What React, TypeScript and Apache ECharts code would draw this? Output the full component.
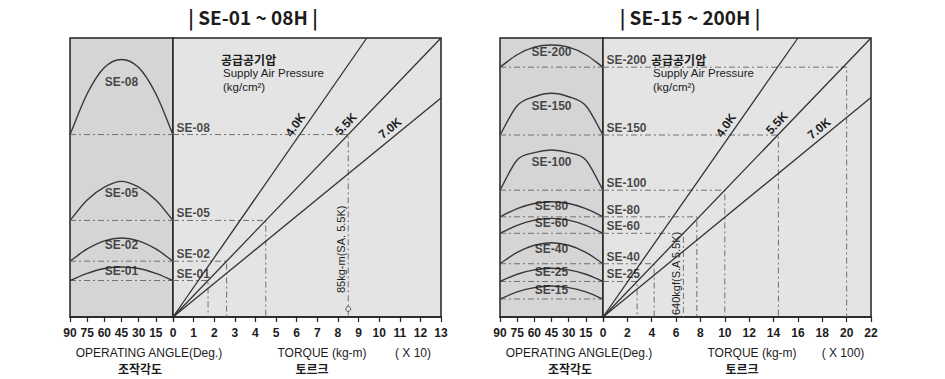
import React, { useEffect, useRef } from 'react';
import * as echarts from 'echarts';

// ---------- data ----------
const pressureNames = ['4.0K', '5.5K', '7.0K'];
const angleAxisName = 'OPERATING ANGLE(Deg.)';
const angleAxisNameKo = '조작각도';
const torqueAxisName = 'TORQUE (kg-m)';
const torqueAxisNameKo = '토르크';
const supplyKo = '공급공기압';
const supplyEn = 'Supply Air Pressure';
const supplyUnit = '(kg/cm²)';
const arcAngles = [90, 75, 60, 45, 30, 15, 0];

// left panel  (SE-01 ~ 08H)
const leftTitle = '| SE-01 ~ 08H |';
const leftScaleNote = '( X 10)';
const leftTorqueMax = 13;
const leftTorqueStep = 1;
const leftSeNames = ['SE-01', 'SE-02', 'SE-05', 'SE-08'];
const leftSeLevels = [1.7, 2.6, 4.5, 8.5];
const leftSeTorques: (number | null)[] = [1.7, 2.6, 4.5, 8.5];
const leftArcShoulders = [2.03, 3.17, 5.45, 10.4];  // arc height at 15° / 75°
const leftArcUpper = [2.26, 3.55, 6.05, 11.62];     // arc height at 30° / 60°
const leftArcPeaks = [2.33, 3.68, 6.32, 12.0];      // arc height at 45°
const leftLineEnds = [[9.4, 13], [13, 13], [13, 10.2]];
const leftLineLabelTorques = [6.3, 8.7, 10.8];
const leftRatedNote = '85kg-m(SA. 5.5K)';
const leftRatedTorque = 8.5;

// right panel (SE-15 ~ 200H)
const rightTitle = '| SE-15 ~ 200H |';
const rightScaleNote = '( X 100)';
const rightTorqueMax = 22;
const rightTorqueStep = 2;
const rightSeNames = ['SE-15', 'SE-25', 'SE-40', 'SE-60', 'SE-80', 'SE-100', 'SE-150', 'SE-200'];
const rightSeLevels = [1.42, 2.8, 4.2, 6.6, 7.9, 10.0, 14.35, 19.7];
const rightSeTorques: (number | null)[] = [null, 2.8, 4.2, 6.6, 7.7, 10.0, 14.4, 20.0];
const rightArcShoulders = [1.98, 3.37, 5.1, 7.22, 8.55, 12.38, 16.66, 20.68];
const rightArcUpper = [2.32, 3.72, 5.66, 7.64, 8.95, 12.96, 17.37, 21.28];
const rightArcPeaks = [2.44, 3.84, 5.86, 7.78, 9.09, 13.17, 17.64, 21.45];
const rightLineEnds = [[16, 22], [22, 22], [22, 17.3]];
const rightLineLabelTorques = [10.7, 14.8, 18.2];
const rightRatedNote = '640kgf(S.A 5.5K)';
const rightRatedTorque = 6.6;

// ---------- layout / style ----------
const FONT = '"Liberation Sans", Arial, sans-serif';
const KFONT = '"Noto Sans CJK KR", "Noto Sans", sans-serif';
const TOP = 38;
const H = 279;
const ANGLE_W = 103;
const TORQUE_W = 268;
const TXT = '#1c1c1c';
const DASH = { color: '#707070', width: 1, type: [6, 3, 2, 3] as any };

const panels = [
  {
    left: 70, titleX: 253, title: leftTitle, scaleNote: leftScaleNote,
    torqueMax: leftTorqueMax, torqueStep: leftTorqueStep,
    names: leftSeNames, levels: leftSeLevels, torques: leftSeTorques,
    shoulders: leftArcShoulders, upper: leftArcUpper, peaks: leftArcPeaks,
    lineEnds: leftLineEnds, labelTorques: leftLineLabelTorques,
    ratedNote: leftRatedNote, ratedTorque: leftRatedTorque, ratedLift: 24, ratedMark: true,
  },
  {
    left: 500, titleX: 690, title: rightTitle, scaleNote: rightScaleNote,
    torqueMax: rightTorqueMax, torqueStep: rightTorqueStep,
    names: rightSeNames, levels: rightSeLevels, torques: rightSeTorques,
    shoulders: rightArcShoulders, upper: rightArcUpper, peaks: rightArcPeaks,
    lineEnds: rightLineEnds, labelTorques: rightLineLabelTorques,
    ratedNote: rightRatedNote, ratedTorque: rightRatedTorque, ratedLift: 2, ratedMark: false,
  },
];

// Catmull-Rom curve through pixel points, as an SVG path
function curvePath(pts: number[][]): string {
  const n = pts.length;
  const get = (i: number) => {
    if (i < 0) return [2 * pts[0][0] - pts[1][0], 2 * pts[0][1] - pts[1][1]];
    if (i >= n) return [2 * pts[n - 1][0] - pts[n - 2][0], 2 * pts[n - 1][1] - pts[n - 2][1]];
    return pts[i];
  };
  let d = `M${pts[0][0]},${pts[0][1]}`;
  for (let i = 0; i < n - 1; i++) {
    const p0 = get(i - 1), p1 = get(i), p2 = get(i + 1), p3 = get(i + 2);
    const c1 = [p1[0] + (p2[0] - p0[0]) / 6, p1[1] + (p2[1] - p0[1]) / 6];
    const c2 = [p2[0] - (p3[0] - p1[0]) / 6, p2[1] - (p3[1] - p1[1]) / 6];
    d += ` C${c1[0]},${c1[1]} ${c2[0]},${c2[1]} ${p2[0]},${p2[1]}`;
  }
  return d;
}

export default function App() {
  const ref = useRef<HTMLDivElement>(null);

  useEffect(() => {
    if (!ref.current) return;
    const chart = echarts.init(ref.current, null, { renderer: 'svg' });

    const grids: any[] = [];
    const xAxes: any[] = [];
    const yAxes: any[] = [];
    const series: any[] = [];
    const staticGraphics: any[] = [];

    const axisCommon = {
      type: 'value',
      axisLine: { show: true, onZero: false, lineStyle: { color: '#222', width: 1.5 } },
      axisTick: { show: true, length: 5, lineStyle: { color: '#222', width: 1.2 } },
      splitLine: { show: false },
    };
    const tickLabel = { color: TXT, fontSize: 12, fontFamily: FONT, fontWeight: 'bold', margin: 10 };

    panels.forEach((p, pi) => {
      const ga = pi * 2;
      const gt = pi * 2 + 1;
      grids.push({ left: p.left, top: TOP, width: ANGLE_W, height: H, show: true, backgroundColor: '#d5d5d5', borderColor: '#222', borderWidth: 1.5 });
      grids.push({ left: p.left + ANGLE_W, top: TOP, width: TORQUE_W, height: H, show: true, backgroundColor: '#e4e4e4', borderColor: '#222', borderWidth: 1.5 });
      xAxes.push({
        ...axisCommon, gridIndex: ga, min: 0, max: 90, interval: 15, inverse: true,
        axisLabel: { ...tickLabel, formatter: (v: number) => (v === 0 ? '' : String(v)) },
      });
      xAxes.push({
        ...axisCommon, gridIndex: gt, min: 0, max: p.torqueMax, interval: p.torqueStep,
        axisLabel: { ...tickLabel },
      });
      yAxes.push({ gridIndex: ga, type: 'value', min: 0, max: p.torqueMax, show: false });
      yAxes.push({ gridIndex: gt, type: 'value', min: 0, max: p.torqueMax, show: false });

      // operating-angle arcs, drawn through the read points with the axis scales
      series.push({
        type: 'custom', coordinateSystem: 'cartesian2d', xAxisIndex: ga, yAxisIndex: ga,
        silent: true, z: 3,
        data: p.names.map((_, i) => [45, p.peaks[i], i]),
        renderItem: (_params: any, api: any) => {
          const i = api.value(2);
          const L = p.levels[i], S = p.shoulders[i], U = p.upper[i], P = p.peaks[i];
          const vals = [L, S, U, P, U, S, L];
          const pts = arcAngles.map((a, k) => api.coord([a, vals[k]]));
          return {
            type: 'path',
            shape: { pathData: curvePath(pts) },
            style: { fill: 'none', stroke: '#383838', lineWidth: 1.4 },
          };
        },
      });

      p.names.forEach((nm, i) => {
        const L = p.levels[i];
        const P = p.peaks[i];
        series.push({
          type: 'line', xAxisIndex: ga, yAxisIndex: ga, silent: true, z: 2,
          data: [[90, L], [0, L]], symbol: 'none', lineStyle: DASH,
        });
        series.push({
          type: 'scatter', xAxisIndex: ga, yAxisIndex: ga, silent: true, z: 4,
          data: [{ name: nm, value: [45, L + 0.7 * (P - L)] }],
          symbolSize: 1, itemStyle: { color: 'rgba(0,0,0,0)' },
          label: { show: true, formatter: '{b}', position: 'inside', color: TXT, fontSize: 12, fontWeight: 'bold', fontFamily: FONT },
        });
        const T = p.torques[i];
        if (T != null) {
          series.push({
            type: 'line', xAxisIndex: gt, yAxisIndex: gt, silent: true, z: 2,
            data: [[0, L], [T, L], [T, 0]], symbol: 'none', lineStyle: DASH,
          });
          series.push({
            type: 'scatter', xAxisIndex: gt, yAxisIndex: gt, silent: true, z: 4,
            data: [{ name: nm, value: [0, L] }],
            symbolSize: 1, itemStyle: { color: 'rgba(0,0,0,0)' },
            label: { show: true, formatter: '{b}', position: 'right', distance: 3, offset: [0, -7], color: TXT, fontSize: 12, fontWeight: 'bold', fontFamily: FONT },
          });
        }
      });

      p.lineEnds.forEach((e) => {
        series.push({
          type: 'line', xAxisIndex: gt, yAxisIndex: gt, silent: true, z: 3,
          data: [[0, 0], e], symbol: 'none', lineStyle: { color: '#333', width: 1.3 },
        });
      });

      if (p.ratedMark) {
        series.push({
          type: 'scatter', xAxisIndex: gt, yAxisIndex: gt, silent: true, z: 5,
          data: [[p.ratedTorque, 0]], symbol: 'circle', symbolSize: 5, symbolOffset: [0, -8],
          itemStyle: { color: '#e4e4e4', borderColor: '#444', borderWidth: 1 },
        });
      }

      // static texts
      const base = p.left;
      const t = (text: string, x: number, y: number, size: number, font: string, weight = 'normal', align = 'center') => ({
        type: 'text', x, y, silent: true,
        style: { text, fill: TXT, fontSize: size, fontFamily: font, fontWeight: weight, align, verticalAlign: 'middle' },
      });
      staticGraphics.push(t(p.title, p.titleX, 16, 19, KFONT, 'bold'));
      staticGraphics.push(t(angleAxisName, base + 79, 353, 12, FONT));
      staticGraphics.push(t(angleAxisNameKo, base + 70, 368, 12, KFONT, 'bold'));
      staticGraphics.push(t(torqueAxisName, base + 252, 353, 12, FONT));
      staticGraphics.push(t(torqueAxisNameKo, base + 242, 368, 12, KFONT, 'bold'));
      staticGraphics.push(t(p.scaleNote, base + 343, 353, 12, FONT));
      staticGraphics.push(t(supplyKo, base + 151, 59, 12, KFONT, 'bold', 'left'));
      staticGraphics.push(t(supplyEn, base + 153, 73, 11.5, FONT, 'normal', 'left'));
      staticGraphics.push(t(supplyUnit, base + 153, 87, 11.5, FONT, 'normal', 'left'));
    });

    chart.setOption({
      animation: false,
      backgroundColor: '#ffffff',
      grid: grids,
      xAxis: xAxes,
      yAxis: yAxes,
      series,
    });

    // labels placed along the pressure lines, using the chart's own scales
    const dyn: any[] = [];
    panels.forEach((p, pi) => {
      const gt = pi * 2 + 1;
      const px = (v: number[]) => chart.convertToPixel({ xAxisIndex: gt, yAxisIndex: gt }, v) as number[];
      const o = px([0, 0]);
      p.lineEnds.forEach((e, k) => {
        const q = px(e);
        const a = Math.atan2(o[1] - q[1], q[0] - o[0]);
        const tx = p.labelTorques[k];
        const pt = px([tx, (e[1] / e[0]) * tx]);
        const d = 9;
        dyn.push({
          type: 'text', silent: true,
          x: pt[0] - Math.sin(a) * d, y: pt[1] - Math.cos(a) * d, rotation: a,
          style: { text: pressureNames[k], fill: TXT, fontSize: 12, fontWeight: 'bold', fontFamily: FONT, align: 'center', verticalAlign: 'middle' },
        });
      });
      const r = px([p.ratedTorque, 0]);
      dyn.push({
        type: 'text', silent: true,
        x: r[0] - 7, y: r[1] - p.ratedLift, rotation: Math.PI / 2,
        style: { text: p.ratedNote, fill: TXT, fontSize: 11, fontFamily: FONT, align: 'left', verticalAlign: 'middle' },
      });
    });

    chart.setOption({ graphic: [...staticGraphics, ...dyn] });

    return () => chart.dispose();
  }, []);

  return (
    <div
      ref={ref}
      style={{ position: 'fixed', left: 0, top: 0, width: 945, height: 379, background: '#fff' }}
    />
  );
}
